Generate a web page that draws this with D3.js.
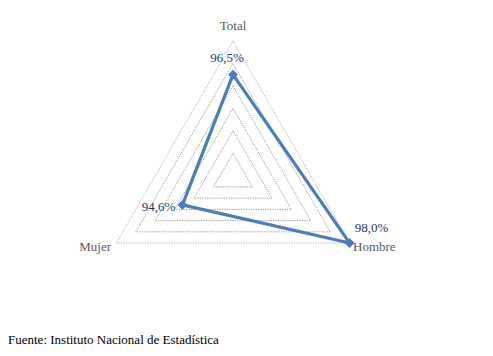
<!DOCTYPE html>
<html><head><meta charset="utf-8">
<script src="https://cdn.jsdelivr.net/npm/d3@7/dist/d3.min.js"></script>
<style>body{margin:0;background:#fff}svg{display:block}svg text{font-family:"Liberation Serif",serif}</style>
</head><body><svg id="c" width="493" height="356"></svg>
<script>
const categories = ["Total", "Hombre", "Mujer"];
const values = [96.5, 98.0, 94.6];
const valueLabels = ["96,5%", "98,0%", "94,6%"];
const scaleMin = 92, scaleMax = 98, scaleStep = 1;
const source = "Fuente: Instituto Nacional de Estadística";

const FONT = "Liberation Serif";
const svg = d3.select("#c");
const cx = 233, cy = 175.7, R = 134.7;
const r = d3.scaleLinear().domain([scaleMin, scaleMax]).range([0, R]);
const angle = d3.scalePoint().domain(categories).range([0, 2*Math.PI*(categories.length-1)/categories.length]);
const pt = (cat, v) => { const a = angle(cat) - Math.PI/2; return [cx + r(v)*Math.cos(a), cy + r(v)*Math.sin(a)]; };

// text first
const axisPos = {"Total": [233, 30, "middle"], "Hombre": [353, 251, "start"], "Mujer": [111, 251, "end"]};
svg.append("g").selectAll("text").data(categories).join("text")
  .attr("x", c => axisPos[c][0]).attr("y", c => axisPos[c][1])
  .attr("text-anchor", c => axisPos[c][2])
  .attr("font-family", FONT)
  .attr("font-size", 13).attr("fill", "#595959").text(c => c);

svg.append("text").attr("x", 8).attr("y", 344).attr("font-family", FONT)
  .attr("font-size", 13).attr("fill", "#000").text(source);

const levels = d3.range(scaleMin + scaleStep, scaleMax + 0.001, scaleStep);
svg.append("g").selectAll("polygon").data(levels).join("polygon")
  .attr("points", lv => categories.map(c => pt(c, lv).join(",")).join(" "))
  .attr("fill", "none")
  .attr("stroke", (lv,i) => i === levels.length-1 ? "#a6a6a6" : "#8c8c8c")
  .attr("stroke-width", 0.9)
  .attr("stroke-dasharray", "1.2,1.2");

const line = d3.line();
svg.append("path")
  .attr("d", line(categories.map((c,i) => pt(c, values[i]))) + "Z")
  .attr("fill", "none").attr("stroke", "#4a7ebb").attr("stroke-width", 3.2).attr("stroke-linejoin", "round");

svg.append("g").selectAll("path").data(categories).join("path")
  .attr("transform", (c,i) => `translate(${pt(c, values[i])})`)
  .attr("d", d3.symbol().type(d3.symbolDiamond2).size(50))
  .attr("fill", "#4a7ebb").attr("stroke", "#4a7ebb");

const lblOff = {"Total": [-6, -13], "Hombre": [22, -11], "Mujer": [-24, 6]};
svg.append("g").selectAll("text").data(categories).join("text")
  .attr("x", (c,i) => pt(c, values[i])[0] + lblOff[c][0])
  .attr("y", (c,i) => pt(c, values[i])[1] + lblOff[c][1])
  .attr("text-anchor", "middle")
  .attr("font-family", FONT)
  .attr("font-size", 13).attr("fill", "#1f3864").text((c,i) => valueLabels[i]);
</script></body></html>
